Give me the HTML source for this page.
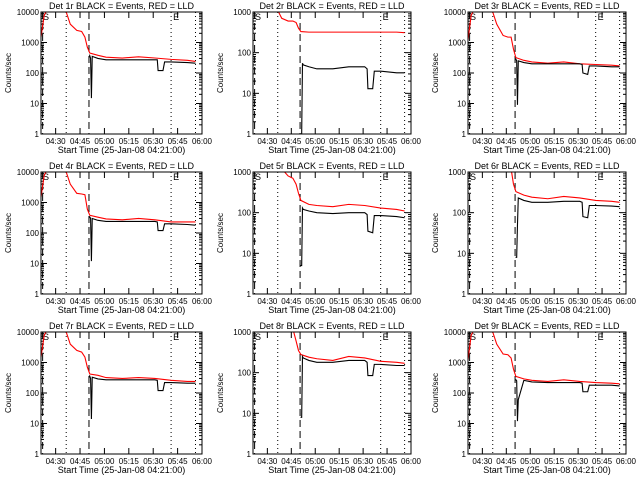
<!DOCTYPE html>
<html><head><meta charset="utf-8"><style>
body{margin:0;background:#fff}
svg{display:block;font-family:"Liberation Sans",sans-serif}
</style></head><body>
<svg id="c" width="640" height="480" xmlns="http://www.w3.org/2000/svg"></svg>
<script>
const detNames = ["1r","2r","3r","4r","5r","6r","7r","8r","9r"];
const yMaxes = [10000,1000,10000,10000,1000,1000,10000,1000,10000];
const xTickLabels = ["04:30","04:45","05:00","05:15","05:30","05:45","06:00"];
const xTickMinutes = [9,24,39,54,69,84,99];
const eventMinutes = [15.5,29.5,80,95];
const redTimes = [0,2,4,15,18,22,25,27,28.5,30,35,40,50,60,70,80,90,95];
const blackTimes = [29.8,30.5,31,31.5,35,40,50,60,70,71.5,72,75,76,80,90,95];
const red1 = [1500,8000,12000,12000,4000,2500,2300,1500,700,450,380,330,310,340,310,280,260,240];
const red2 = [1000,1200,1200,1200,700,600,600,550,400,330,320,320,320,320,320,320,320,310];
const red3 = [1200,8000,12000,12000,4000,1700,1500,1500,600,320,260,230,210,230,200,190,180,170];
const red4 = [1500,8000,12000,12000,4000,2000,1900,1800,600,380,330,290,270,300,270,230,230,230];
const red5 = [1200,1200,1200,1200,1200,800,700,500,300,200,160,150,140,160,150,130,120,110];
const red6 = [1200,1200,1200,1200,1200,1200,1200,1200,500,330,270,240,220,250,230,200,190,180];
const red7 = [1500,8000,12000,12000,4000,2500,2200,1500,700,420,380,320,300,320,300,260,240,240];
const red8 = [1200,1200,1200,1200,1200,1200,1200,600,350,280,240,220,200,250,230,190,180,170];
const red9 = [1200,8000,12000,12000,4000,1900,1800,1400,600,350,290,260,240,270,240,220,210,200];
const black1 = [400,300,15,350,300,270,270,270,270,270,120,120,230,230,220,210];
const black2 = [1,1,55,50,45,40,40,45,45,40,13,13,35,35,32,32];
const black3 = [300,250,9,250,220,200,200,200,200,190,100,90,170,170,160,160];
const black4 = [350,300,12,300,260,240,240,240,240,230,120,120,200,200,190,180];
const black5 = [5,5,130,120,110,100,95,100,100,90,35,32,85,85,80,75];
const black6 = [8,8,50,230,200,180,180,190,190,180,80,75,150,150,145,140];
const black7 = [380,300,14,330,290,270,270,270,270,260,120,120,220,220,210,210];
const black8 = [8,8,250,230,200,180,180,200,200,180,85,85,160,160,150,150];
const black9 = [280,250,12,60,260,230,220,220,220,210,110,110,180,180,180,170];
const reds=[red1,red2,red3,red4,red5,red6,red7,red8,red9];
const blacks=[black1,black2,black3,black4,black5,black6,black7,black8,black9];

const NS="http://www.w3.org/2000/svg";
const svg=document.getElementById('c');
function mk(tag,attrs,parent){const e=document.createElementNS(NS,tag);for(const k in attrs)e.setAttribute(k,attrs[k]);(parent||svg).appendChild(e);return e;}
const colX=[[41,202],[253,411],[468,626]];
const rowY=[[12,134],[172,294],[332,454]];
for(let p=0;p<9;p++){
  const [x0,x1]=colX[p%3],[y0,y1]=rowY[Math.floor(p/3)];
  const g=mk('g',{});
  
  
  const ymax=yMaxes[p],dec=Math.log10(ymax);
  const xs=t=>x0+(t/99)*(x1-x0);
  const ys=v=>y1-(Math.log10(Math.max(v,1))/dec)*(y1-y0);
  const cid='clip'+p;
  const cp=mk('clipPath',{id:cid},g);mk('rect',{x:x0,y:y0,width:x1-x0,height:y1-y0},cp);
  const ti=mk('text',{x:(x0+x1)/2,y:y0-3,'text-anchor':'middle','font-size':'9'},g);
  ti.textContent='Det '+detNames[p]+' BLACK = Events, RED = LLD';
  
  
  const yt=mk('text',{x:0,y:0,'text-anchor':'middle','font-size':'8',transform:`translate(${x0-30},${(y0+y1)/2}) rotate(-90)`},g);
  yt.textContent='Counts/sec';
  
  
  const xt=mk('text',{x:(x0+x1)/2,y:y1+19,'text-anchor':'middle','font-size':'9'},g);
  xt.textContent='Start Time (25-Jan-08 04:21:00)';
  
  
  for(let d=0;d<=dec;d++){
    const v=Math.pow(10,d),y=ys(v);
    mk('line',{x1:x0,x2:x0+6,y1:y,y2:y,stroke:'#000'},g);
    mk('line',{x1:x1,x2:x1-6,y1:y,y2:y,stroke:'#000'},g);
    const l=mk('text',{x:x0-2,y:y+3,'text-anchor':'end','font-size':'8'},g);
    l.textContent=String(v);
    
    
    if(d<dec)for(let m=2;m<10;m++){const ym=ys(v*m);
      mk('line',{x1:x0,x2:x0+3,y1:ym,y2:ym,stroke:'#000'},g);
      mk('line',{x1:x1,x2:x1-3,y1:ym,y2:ym,stroke:'#000'},g);}
  }
  xTickMinutes.forEach((t,i)=>{const x=xs(t);
    mk('line',{x1:x,x2:x,y1:y1,y2:y1-6,stroke:'#000'},g);
    mk('line',{x1:x,x2:x,y1:y0,y2:y0+6,stroke:'#000'},g);
    const l=mk('text',{x:x,y:y1+10,'text-anchor':'middle','font-size':'8'},g);
    l.textContent=xTickLabels[i];
    
    
  });
  [1].concat(eventMinutes).forEach((t,i)=>{const x=xs(t);
    const dashed=(i===0||i===2);
    mk('line',{x1:x,x2:x,y1:y0,y2:y1,stroke:'#000','stroke-width':1,'stroke-dasharray':dashed?'7,4':'1,3'},g);});
  const s=mk('text',{x:x0+2,y:y0+8,'font-size':'9'},g);s.textContent='S';
  
  
  const e=mk('text',{x:xs(eventMinutes[2])+2,y:y0+8,'font-size':'9'},g);e.textContent='E';
  
  
  const rp=mk('polyline',{points:redTimes.map((t,i)=>xs(t)+','+ys(reds[p][i])).join(' '),fill:'none',stroke:'#f00','stroke-width':1.1,'clip-path':`url(#${cid})`},g);
  
  
  const bp=mk('polyline',{points:blackTimes.map((t,i)=>xs(t)+','+ys(blacks[p][i])).join(' '),fill:'none',stroke:'#000','stroke-width':1.1,'clip-path':`url(#${cid})`},g);
  
  
  mk('rect',{x:x0,y:y0,width:x1-x0,height:y1-y0,fill:'none',stroke:'#000'},g);
}
</script>
</body></html>
